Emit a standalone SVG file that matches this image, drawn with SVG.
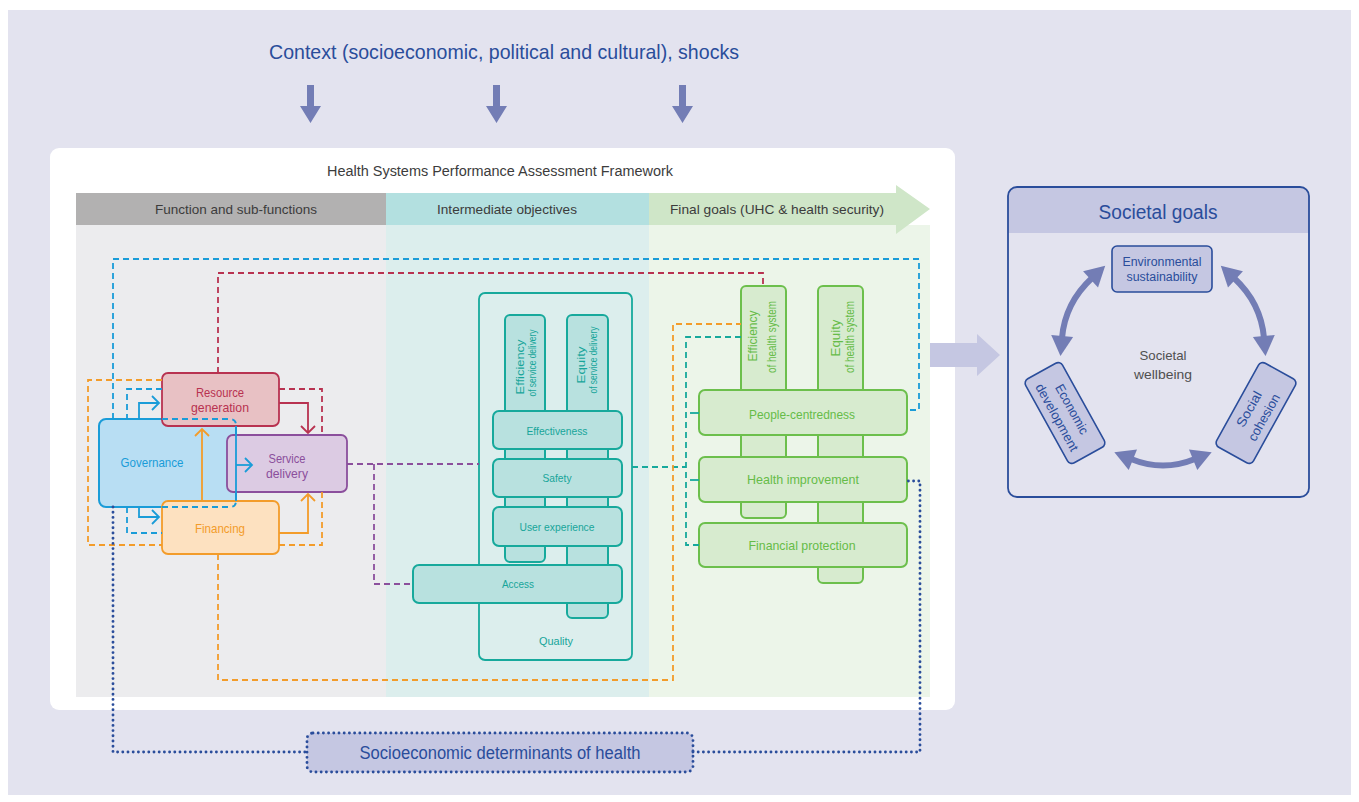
<svg xmlns="http://www.w3.org/2000/svg" width="1359" height="802" viewBox="0 0 1359 802">
<style>
text{font-family:'Liberation Sans Narrow','Liberation Sans',Arial,sans-serif;text-anchor:middle;dominant-baseline:central}
.navy{fill:#2a4d9b}
.hdr{fill:#3c3c3c;font-size:13px}
.teal{fill:#17a59a;font-size:11px}
.green{fill:#66bc48;font-size:13px}
.tbox{fill:#b8e1df;stroke:#17a99c;stroke-width:2}
.gbox{fill:#d7ebcf;stroke:#6cbf4c;stroke-width:2}
.dash{fill:none;stroke-width:1.8;stroke-dasharray:6 4}
.sol{fill:none;stroke-width:1.8}
.dot{fill:none;stroke:#2a4d9b;stroke-width:2.9;stroke-dasharray:0 5.2;stroke-linecap:round}
.ctx{fill:#737db5}
</style>
<defs>
<marker id="mB" markerUnits="userSpaceOnUse" markerWidth="12" markerHeight="16" refX="8" refY="7" orient="auto" overflow="visible"><path d="M1,0 L8,7 L1,14" fill="none" stroke="#1a9cd8" stroke-width="1.8"/></marker>
<marker id="mR" markerUnits="userSpaceOnUse" markerWidth="12" markerHeight="16" refX="8" refY="7" orient="auto" overflow="visible"><path d="M1,0 L8,7 L1,14" fill="none" stroke="#b83250" stroke-width="1.8"/></marker>
<marker id="mO" markerUnits="userSpaceOnUse" markerWidth="12" markerHeight="16" refX="8" refY="7" orient="auto" overflow="visible"><path d="M1,0 L8,7 L1,14" fill="none" stroke="#f39c2a" stroke-width="1.8"/></marker>
<marker id="mS" markerUnits="userSpaceOnUse" markerWidth="22" markerHeight="24" refX="2" refY="11" orient="auto-start-reverse" overflow="visible"><path d="M0,0 L20,11 L0,22 Z" fill="#737db5"/></marker>
</defs>

<rect width="1359" height="802" fill="#ffffff"/>
<rect x="8" y="10" width="1343" height="785" fill="#e3e3ef"/>

<g id="context">
<text x="504" y="51" class="navy" font-size="21" textLength="470" lengthAdjust="spacingAndGlyphs">Context (socioeconomic, political and cultural), shocks</text>
<polygon class="ctx" points="307,85 314,85 314,106 321,106 310.5,123 300,106 307,106"/>
<polygon class="ctx" points="493,85 500,85 500,106 507,106 496.5,123 486,106 493,106"/>
<polygon class="ctx" points="679,85 686,85 686,106 693,106 682.5,123 672,106 679,106"/>
</g>

<g id="framework-panel">
<rect x="50" y="148" width="905" height="562" rx="9" fill="#ffffff"/>
<text x="500" y="171" font-size="14" fill="#3c3c3c" textLength="346" lengthAdjust="spacingAndGlyphs">Health Systems Performance Assessment Framework</text>
<rect x="76" y="225" width="310" height="472" fill="#ececee"/>
<rect x="386" y="225" width="263" height="472" fill="#dceeed"/>
<rect x="649" y="225" width="281" height="472" fill="#ecf5e9"/>
<rect x="76" y="193" width="310" height="32" fill="#b2b1b1"/>
<rect x="386" y="193" width="263" height="32" fill="#b3e0e0"/>
<polygon points="649,193 896,193 896,185 930,209 896,234 896,225 649,225" fill="#cfe6c8"/>
<text x="236" y="209" class="hdr" textLength="162" lengthAdjust="spacingAndGlyphs">Function and sub-functions</text>
<text x="507" y="209" class="hdr" textLength="140" lengthAdjust="spacingAndGlyphs">Intermediate objectives</text>
<text x="777" y="209" class="hdr" textLength="214" lengthAdjust="spacingAndGlyphs">Final goals (UHC &amp; health security)</text>
</g>

<g id="to-societal-arrow">
<polygon points="930,343 977,343 977,334 1000,355 977,376 977,367 930,367" fill="#c5c7e2"/>
</g>

<g id="governance">
<rect x="99" y="419" width="137" height="88" rx="7" fill="#b8def3" stroke="#1a9cd8" stroke-width="2"/>
<text x="152" y="462" font-size="13" fill="#1a9cd8" textLength="63" lengthAdjust="spacingAndGlyphs">Governance</text>
</g>
<g id="resource-generation">
<rect x="162" y="373" width="117" height="53" rx="6" fill="#e8c1c4" stroke="#b83250" stroke-width="1.8"/>
<text x="220" y="392" font-size="13" fill="#b83250" textLength="48" lengthAdjust="spacingAndGlyphs">Resource</text>
<text x="220" y="407" font-size="13" fill="#b83250" textLength="58" lengthAdjust="spacingAndGlyphs">generation</text>
</g>
<g id="service-delivery">
<rect x="227" y="435" width="120" height="57" rx="6" fill="#dccbe3" stroke="#8b4f9c" stroke-width="1.8"/>
<text x="287" y="458" font-size="13" fill="#8b4f9c" textLength="37" lengthAdjust="spacingAndGlyphs">Service</text>
<text x="287" y="473" font-size="13" fill="#8b4f9c" textLength="42" lengthAdjust="spacingAndGlyphs">delivery</text>
</g>
<g id="financing">
<rect x="162" y="501" width="117" height="53" rx="6" fill="#fde1c0" stroke="#f39c2a" stroke-width="1.8"/>
<text x="220" y="528" font-size="13" fill="#f39c2a" textLength="50" lengthAdjust="spacingAndGlyphs">Financing</text>
</g>
<g id="governance-overlay">
<path d="M162,419 H230 Q236,419 236,425" class="dash" stroke="#1a9cd8" stroke-dasharray="4 3"/>
<path d="M162,507 H230 Q236,507 236,501" class="dash" stroke="#1a9cd8" stroke-dasharray="4 3"/>
<path d="M236,426 V501" class="sol" stroke="#1a9cd8" stroke-width="2"/>
</g>

<g id="quality">
<rect x="479" y="293" width="153" height="367" rx="6" fill="none" stroke="#17a99c" stroke-width="1.8"/>
<text x="556" y="641" class="teal" textLength="34" lengthAdjust="spacingAndGlyphs">Quality</text>
</g>
<g id="efficiency-service">
<rect x="505" y="315" width="40" height="247" rx="5" class="tbox"/>
<text transform="translate(520,367) rotate(-90)" x="0" y="0" class="teal" font-size="12" textLength="55" lengthAdjust="spacingAndGlyphs">Efficiency</text>
<text transform="translate(532,363) rotate(-90)" x="0" y="0" class="teal" font-size="9" textLength="67" lengthAdjust="spacingAndGlyphs">of service delivery</text>
</g>
<g id="equity-service">
<rect x="567" y="315" width="41" height="303" rx="5" class="tbox"/>
<text transform="translate(581,365) rotate(-90)" x="0" y="0" class="teal" font-size="12" textLength="37" lengthAdjust="spacingAndGlyphs">Equity</text>
<text transform="translate(593,360) rotate(-90)" x="0" y="0" class="teal" font-size="9" textLength="67" lengthAdjust="spacingAndGlyphs">of service delivery</text>
</g>
<g id="effectiveness">
<rect x="493" y="411" width="129" height="38" rx="6" class="tbox"/>
<text x="557" y="431" class="teal" textLength="61" lengthAdjust="spacingAndGlyphs">Effectiveness</text>
</g>
<g id="safety">
<rect x="493" y="459" width="129" height="38" rx="6" class="tbox"/>
<text x="557" y="478" class="teal" textLength="29" lengthAdjust="spacingAndGlyphs">Safety</text>
</g>
<g id="user-experience">
<rect x="493" y="507" width="129" height="39" rx="6" class="tbox"/>
<text x="557" y="527" class="teal" textLength="75" lengthAdjust="spacingAndGlyphs">User experience</text>
</g>
<g id="access">
<rect x="413" y="565" width="209" height="38" rx="6" class="tbox"/>
<text x="518" y="584" class="teal" textLength="32" lengthAdjust="spacingAndGlyphs">Access</text>
</g>

<g id="efficiency-health-system">
<rect x="741" y="286" width="45" height="232" rx="5" class="gbox"/>
<text transform="translate(752,336) rotate(-90)" x="0" y="0" class="green" textLength="51" lengthAdjust="spacingAndGlyphs">Efficiency</text>
<text transform="translate(771,337) rotate(-90)" x="0" y="0" class="green" font-size="10" textLength="72" lengthAdjust="spacingAndGlyphs">of health system</text>
</g>
<g id="equity-health-system">
<rect x="818" y="286" width="45" height="297" rx="5" class="gbox"/>
<text transform="translate(835,338) rotate(-90)" x="0" y="0" class="green" textLength="37" lengthAdjust="spacingAndGlyphs">Equity</text>
<text transform="translate(849,337) rotate(-90)" x="0" y="0" class="green" font-size="10" textLength="72" lengthAdjust="spacingAndGlyphs">of health system</text>
</g>
<g id="people-centredness">
<rect x="699" y="390" width="208" height="45" rx="6" class="gbox"/>
<text x="802" y="414" class="green" textLength="106" lengthAdjust="spacingAndGlyphs">People-centredness</text>
</g>
<g id="health-improvement">
<rect x="699" y="457" width="208" height="45" rx="6" class="gbox"/>
<text x="803" y="479" class="green" textLength="112" lengthAdjust="spacingAndGlyphs">Health improvement</text>
</g>
<g id="financial-protection">
<rect x="699" y="523" width="208" height="44" rx="6" class="gbox"/>
<text x="802" y="545" class="green" textLength="107" lengthAdjust="spacingAndGlyphs">Financial protection</text>
</g>

<g id="socioeconomic-determinants">
<rect x="307" y="733" width="386" height="39" rx="6" fill="#c5c7e2" class="dot" style="fill:#c5c7e2" stroke-dasharray="0 4.6"/>
<text x="500" y="753" class="navy" font-size="18" textLength="281" lengthAdjust="spacingAndGlyphs">Socioeconomic determinants of health</text>
</g>

<g id="societal-goals">
<rect x="1008" y="187" width="301" height="310" rx="9" fill="#e3e3ef"/>
<path d="M1008,233 V196 Q1008,187 1017,187 H1300 Q1309,187 1309,196 V233 Z" fill="#c5c7e2"/>
<rect x="1008" y="187" width="301" height="310" rx="9" fill="none" stroke="#2a4d9b" stroke-width="1.8"/>
<text x="1158" y="212" class="navy" font-size="20" textLength="119" lengthAdjust="spacingAndGlyphs">Societal goals</text>
<text x="1163" y="355" font-size="13" fill="#505050" textLength="47" lengthAdjust="spacingAndGlyphs">Societal</text>
<text x="1163" y="374" font-size="13" fill="#505050" textLength="58" lengthAdjust="spacingAndGlyphs">wellbeing</text>
</g>
<g id="environmental-sustainability">
<rect x="1112" y="246" width="100" height="46" rx="5" fill="#c5c7e2" stroke="#2a4d9b" stroke-width="1.6"/>
<text x="1162" y="262" class="navy" font-size="12" textLength="79" lengthAdjust="spacingAndGlyphs">Environmental</text>
<text x="1162" y="277" class="navy" font-size="12" textLength="71" lengthAdjust="spacingAndGlyphs">sustainability</text>
</g>
<g id="economic-development" transform="translate(1065,413) rotate(61)">
<rect x="-48" y="-21" width="96" height="42" rx="5" fill="#c5c7e2" stroke="#2a4d9b" stroke-width="1.6"/>
<text x="0" y="-8" class="navy" font-size="13" textLength="55" lengthAdjust="spacingAndGlyphs">Economic</text>
<text x="0" y="9" class="navy" font-size="13" textLength="75" lengthAdjust="spacingAndGlyphs">development</text>
</g>
<g id="social-cohesion" transform="translate(1256,413) rotate(-61)">
<rect x="-48" y="-21" width="96" height="42" rx="5" fill="#c5c7e2" stroke="#2a4d9b" stroke-width="1.6"/>
<text x="0" y="-8" class="navy" font-size="13" textLength="39" lengthAdjust="spacingAndGlyphs">Social</text>
<text x="0" y="9" class="navy" font-size="13" textLength="52" lengthAdjust="spacingAndGlyphs">cohesion</text>
</g>

<g id="connectors">
<path d="M1092,278 Q1065,303 1062,338" fill="none" stroke="#737db5" stroke-width="6" marker-start="url(#mS)" marker-end="url(#mS)"/>
<path d="M1234,278 Q1261,303 1264,338" fill="none" stroke="#737db5" stroke-width="6" marker-start="url(#mS)" marker-end="url(#mS)"/>
<path d="M1131,459 Q1163,472 1195,459" fill="none" stroke="#737db5" stroke-width="6" marker-start="url(#mS)" marker-end="url(#mS)"/>

<path d="M139,419 V403 H159" class="sol" stroke="#1a9cd8" marker-end="url(#mB)"/>
<path d="M236,465 H252" class="sol" stroke="#1a9cd8" marker-end="url(#mB)"/>
<path d="M139,507 V517 H159" class="sol" stroke="#1a9cd8" marker-end="url(#mB)"/>
<path d="M279,403 H308 V433" class="sol" stroke="#b83250" marker-end="url(#mR)"/>
<path d="M202,501 V429" class="sol" stroke="#f39c2a" marker-end="url(#mO)"/>
<path d="M279,533 H308 V494" class="sol" stroke="#f39c2a" marker-end="url(#mO)"/>

<path d="M162,380 H88 V545 H162" class="dash" stroke="#f39c2a"/>
<path d="M279,545 H322 V492" class="dash" stroke="#f39c2a"/>
<path d="M279,389 H322 V435" class="dash" stroke="#b83250"/>
<path d="M162,389 H127 V419" class="dash" stroke="#1a9cd8"/>
<path d="M127,507 V533 H162" class="dash" stroke="#1a9cd8"/>
<path d="M113,419 V259 H919 V410 H907" class="dash" stroke="#1a9cd8"/>
<path d="M218,373 V273 H763 V286" class="dash" stroke="#b83250"/>
<path d="M347,464 H479" class="dash" stroke="#8b4f9c"/>
<path d="M374,464 V584 H413" class="dash" stroke="#8b4f9c"/>
<path d="M632,467 H686" class="dash" stroke="#17a99c"/>
<path d="M741,337 H686 V545 H699" class="dash" stroke="#17a99c"/>
<path d="M690,413 H699" class="sol" stroke="#17a99c"/>
<path d="M690,480 H699" class="sol" stroke="#17a99c"/>
<path d="M218,554 V680 H673 V324 H741" class="dash" stroke="#f39c2a"/>
<path d="M113,507 V752 H307" class="dot"/>
<path d="M693,752 H920 V481 H907" class="dot"/>
</g>
</svg>
